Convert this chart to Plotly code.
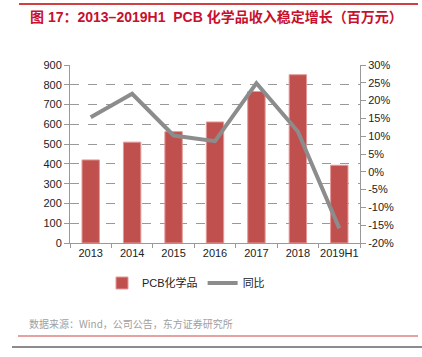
import plotly.graph_objects as go

categories = ["2013", "2014", "2015", "2016", "2017", "2018", "2019H1"]
revenue = [420, 510, 563, 612, 766, 851, 393]
yoy = [15.3, 21.9, 10.2, 8.6, 24.9, 11.3, -15.9]
left_ticks = [0, 100, 200, 300, 400, 500, 600, 700, 800, 900]
right_ticks = [-20, -15, -10, -5, 0, 5, 10, 15, 20, 25, 30]

W, H = 422, 357
L, R, T, B = 70, 62, 65, 114
PW = W - L - R
PH = H - T - B

def px(x):
    return (x - L) / PW

def py(y):
    return (H - B - y) / PH

FONT = "Liberation Sans, Noto Sans CJK SC, sans-serif"

fig = go.Figure()
fig.add_trace(go.Bar(
    x=categories, y=revenue, name="PCB化学品",
    marker=dict(color="#C0504D", line=dict(color="#E39A98", width=1)),
    width=0.42,
))
fig.add_trace(go.Scatter(
    x=categories, y=yoy, name="同比", yaxis="y2", mode="lines",
    line=dict(color="#8C8C8C", width=4),
))

fig.update_layout(
    width=W, height=H,
    margin=dict(l=L, r=R, t=T, b=B),
    paper_bgcolor="white", plot_bgcolor="white",
    font=dict(family=FONT, size=11, color="#222"),
    showlegend=True,
    legend=dict(orientation="h", x=px(186), xanchor="center", y=py(283), yanchor="middle",
                font=dict(size=11, family="Liberation Sans, Noto Sans CJK SC, sans-serif"),
                itemwidth=30, tracegroupgap=0),
    xaxis=dict(showline=True, linecolor="#999", ticks="outside", ticklen=4, tickcolor="#999",
               tickson="boundaries", showgrid=False, tickfont=dict(size=11), tickangle=0,
               automargin=False),
    yaxis=dict(range=[0, 900], tickvals=left_ticks, showline=True, linecolor="#999",
               ticks="outside", ticklen=5, tickcolor="#999",
               showgrid=True, gridcolor="#999", griddash="dash", gridwidth=1,
               zeroline=False, tickfont=dict(size=11), automargin=False),
    yaxis2=dict(range=[-20, 30], tickvals=right_ticks,
                ticktext=[f"{v}%" for v in right_ticks], overlaying="y", side="right",
                showline=True, linecolor="#999", ticks="outside", ticklen=5, tickcolor="#999",
                showgrid=False, zeroline=False, tickfont=dict(size=11), automargin=False),
    bargap=0.58,
)

shapes = [
    dict(type="line", xref="paper", yref="paper", x0=px(19), x1=px(418), y0=py(4), y1=py(4),
         line=dict(color="#C00000", width=1.5)),
    dict(type="line", xref="paper", yref="paper", x0=px(18), x1=px(418), y0=py(336), y1=py(336),
         line=dict(color="#E08080", width=1.5)),
    dict(type="line", xref="paper", yref="paper", x0=px(12), x1=px(422), y0=py(347), y1=py(347),
         line=dict(color="#666", width=1.5)),
]
fig.update_layout(shapes=shapes)

fig.add_annotation(xref="paper", yref="paper", x=px(28), y=py(17), xanchor="left", yanchor="middle",
                   text="<b>图 17：2013–2019H1  PCB 化学品收入稳定增长（百万元）</b>", showarrow=False,
                   font=dict(size=14, color="#C8102E", family="Liberation Sans, Noto Sans CJK SC, sans-serif"))
fig.add_annotation(xref="paper", yref="paper", x=px(27), y=py(323), xanchor="left", yanchor="middle",
                   text="数据来源：Wind，公司公告，东方证券研究所", showarrow=False,
                   font=dict(size=10, color="#A0A0A0", family="Noto Sans CJK SC, sans-serif"))

fig.write_html("out.html", config={"displayModeBar": False},
               post_script="document.body.style.margin='0';document.body.style.padding='0';")
